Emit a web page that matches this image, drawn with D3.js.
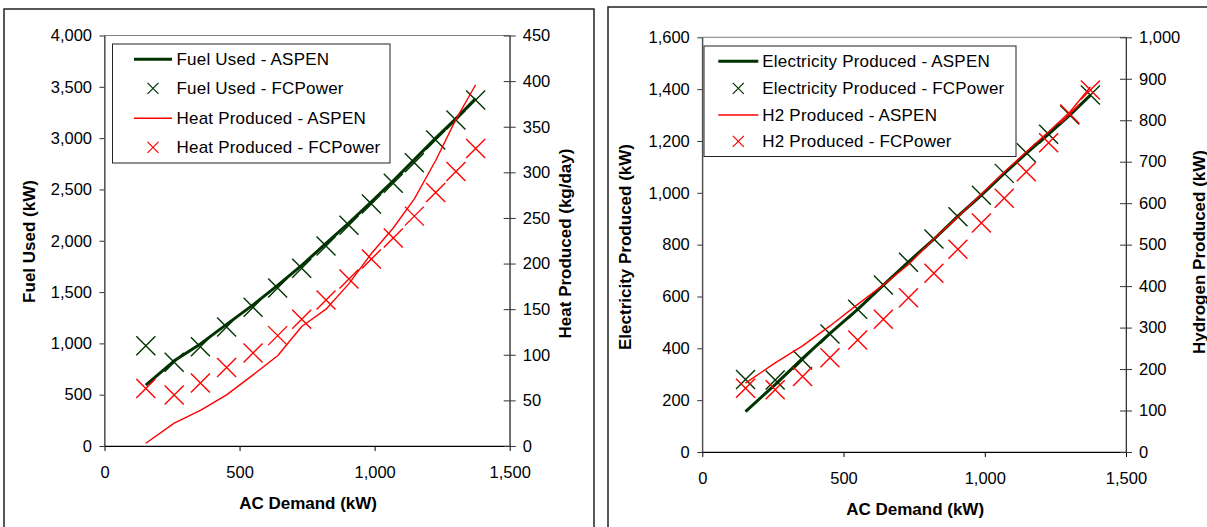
<!DOCTYPE html>
<html><head><meta charset="utf-8">
<script src="https://cdn.jsdelivr.net/npm/d3@7"></script>
<style>
body{margin:0;background:#fff;}
svg text{font-family:"Liberation Sans",Arial,sans-serif;fill:#000;}
.tick text{font-size:16.5px;}
.ttl{font-size:17px;font-weight:bold;}
.leg{font-size:17px;letter-spacing:0.2px;}
</style></head><body>
<svg id="c" width="1207" height="527"></svg>
<script>
// ---------- data ----------
const acDemand        = [153,258,355,452,550,641,730,820,905,988,1069,1147,1226,1301,1374];
const fuelUsedAspen   = [594,830,995,1185,1375,1565,1760,1975,2175,2380,2585,2790,3000,3190,3385];
const fuelUsedFCPower = [977,816,968,1160,1351,1540,1731,1949,2150,2357,2560,2761,2982,3177,3371];
const heatAspen       = [3,25,39,56,78,99,131,150,178,211,239,271,313,358,396];
const heatFCPower     = [63,56,69,86,102,121,139,160,183,205,228,252,278,301,326];
const elecAspen       = [156,260,361,458,550,644,734,821,910,991,1075,1152,1226,1300,1377];
const elecFCPower     = [280,278,355,455,551,644,732,822,908,991,1075,1155,1226,1300,1377];
const h2Aspen         = [166,215,256,304,356,403,452,514,567,622,675,724,772,820,880];
const h2FCPower       = [154,150,182,227,270,320,372,431,489,552,612,676,746,815,873];

const xTicks    = [0,500,1000,1500];
const fuelTicks = [0,500,1000,1500,2000,2500,3000,3500,4000];
const heatTicks = [0,50,100,150,200,250,300,350,400,450];
const elecTicks = [0,200,400,600,800,1000,1200,1400,1600];
const h2Ticks   = [0,100,200,300,400,500,600,700,800,900,1000];

const GREEN = "#003300", RED = "#ff0000";
const fmt = d3.format(",");
const svg = d3.select("#c");

function drawChart(cfg){
  const g = svg.append("g");
  // outer frame
  g.append("rect").attr("x",cfg.frame[0]).attr("y",cfg.frame[1])
    .attr("width",cfg.frame[2]).attr("height",cfg.frame[3])
    .attr("fill","#fff").attr("stroke","#222").attr("stroke-width",1.5);

  const x = d3.scaleLinear().domain([0,1500]).range(cfg.xr);
  const yL = d3.scaleLinear().domain(cfg.yLdom).range(cfg.yr);
  const yR = d3.scaleLinear().domain(cfg.yRdom).range(cfg.yr);

  // plot area border
  g.append("rect").attr("x",cfg.xr[0]).attr("y",cfg.yr[1])
    .attr("width",cfg.xr[1]-cfg.xr[0]).attr("height",cfg.yr[0]-cfg.yr[1])
    .attr("fill","none").attr("stroke","#808080").attr("stroke-width",1);

  // axes
  const ax = g.append("g").attr("transform",`translate(0,${cfg.yr[0]})`)
    .call(d3.axisBottom(x).tickValues(xTicks).tickFormat(fmt).tickSizeInner(5).tickSizeOuter(0).tickPadding(15.5));
  ax.select(".domain").attr("stroke","#000");
  ax.selectAll(".tick line").attr("stroke","#000");
  ax.selectAll("text").attr("font-family",null).attr("font-size",null);

  const al = g.append("g").attr("transform",`translate(${cfg.xr[0]},0)`)
    .call(d3.axisLeft(yL).tickValues(cfg.yLticks).tickFormat(fmt).tickSizeInner(5).tickSizeOuter(0).tickPadding(7.5));
  al.selectAll(".domain,.tick line").attr("stroke","#333");
  al.selectAll("text").attr("font-family",null).attr("font-size",null);

  const ar = g.append("g").attr("transform",`translate(${cfg.xr[1]},0)`)
    .call(d3.axisRight(yR).tickValues(cfg.yRticks).tickFormat(fmt).tickSizeInner(6).tickSizeOuter(0).tickPadding(7));
  ar.selectAll(".domain,.tick line").attr("stroke","#333");
  ar.selectAll(".tick line").attr("x1",-6);
  ar.selectAll("text").attr("font-family",null).attr("font-size",null);

  // titles
  g.append("text").attr("class","ttl").attr("text-anchor","middle")
    .attr("x",(cfg.xr[0]+cfg.xr[1])/2+1).attr("y",cfg.xTitleY).text("AC Demand (kW)");
  g.append("text").attr("class","ttl").attr("text-anchor","middle")
    .attr("transform",`translate(${cfg.yLTitle[0]},${cfg.yLTitle[1]}) rotate(-90)`).text(cfg.yLTitleText);
  g.append("text").attr("class","ttl").attr("text-anchor","middle")
    .attr("transform",`translate(${cfg.yRTitle[0]},${cfg.yRTitle[1]}) rotate(-90)`).text(cfg.yRTitleText);

  // series
  const plot = g.append("g");
  function xMark(sel, s, col, w){
    sel.append("path").attr("d",`M${-s},${-s}L${s},${s}M${-s},${s}L${s},${-s}`)
      .attr("stroke",col).attr("stroke-width",w).attr("fill","none");
  }
  cfg.series.forEach(s=>{
    const pts = acDemand.map((d,i)=>[d, s.values[i]]);
    const ys = s.axis==="L"?yL:yR;
    if(s.type==="line"){
      plot.append("path").datum(pts)
        .attr("d",d3.line().x(d=>x(d[0])).y(d=>ys(d[1])))
        .attr("fill","none").attr("stroke",s.color).attr("stroke-width",s.width)
        .attr("stroke-linejoin","round");
    } else {
      plot.selectAll(null).data(pts).enter().append("g")
        .attr("transform",d=>`translate(${x(d[0])},${ys(d[1])})`)
        .each(function(){ xMark(d3.select(this),9.5,s.color,1.4); });
    }
  });

  // legend
  const L = cfg.legend;
  const lg = g.append("g");
  lg.append("rect").attr("x",L.box[0]).attr("y",L.box[1]).attr("width",L.box[2]).attr("height",L.box[3])
    .attr("fill","#fff").attr("stroke","#222").attr("stroke-width",1);
  cfg.series.forEach((s,i)=>{
    const by = L.baselines[i], cy = by-6;
    if(s.type==="line"){
      lg.append("line").attr("x1",L.lineX[0]).attr("x2",L.lineX[1]).attr("y1",cy).attr("y2",cy)
        .attr("stroke",s.color).attr("stroke-width",s.width);
    } else {
      const m = lg.append("g").attr("transform",`translate(${(L.lineX[0]+L.lineX[1])/2},${cy})`);
      xMark(m,5.5,s.color,1.2);
    }
    lg.append("text").attr("class","leg").attr("x",L.textX).attr("y",by).text(s.name);
  });
}

drawChart({
  id:1,
  frame:[4,9,590,560],
  xr:[104.5,509.7], yr:[446,35.5],
  yLdom:[0,4000], yRdom:[0,450],
  yLticks:fuelTicks, yRticks:heatTicks,
  xTitleY:508.5,
  yLTitle:[35,241.5], yLTitleText:"Fuel Used (kW)",
  yRTitle:[571,243.5], yRTitleText:"Heat Produced (kg/day)",
  series:[
    {name:"Fuel Used - ASPEN", type:"line", axis:"L", values:fuelUsedAspen, color:GREEN, width:3},
    {name:"Fuel Used - FCPower", type:"mark", axis:"L", values:fuelUsedFCPower, color:GREEN},
    {name:"Heat Produced - ASPEN", type:"line", axis:"R", values:heatAspen, color:RED, width:1.4},
    {name:"Heat Produced - FCPower", type:"mark", axis:"R", values:heatFCPower, color:RED}
  ],
  legend:{box:[112.5,44,277.5,119], baselines:[65.3,94.3,124.3,153.3], lineX:[134,172], textX:176.5}
});

drawChart({
  id:2,
  frame:[608,7,640,560],
  xr:[702.3,1126], yr:[452,37.3],
  yLdom:[0,1600], yRdom:[0,1000],
  yLticks:elecTicks, yRticks:h2Ticks,
  xTitleY:515,
  yLTitle:[630.5,247], yLTitleText:"Electricity Produced (kW)",
  yRTitle:[1204.5,252], yRTitleText:"Hydrogen Produced (kW)",
  series:[
    {name:"Electricity Produced - ASPEN", type:"line", axis:"L", values:elecAspen, color:GREEN, width:3},
    {name:"Electricity Produced - FCPower", type:"mark", axis:"L", values:elecFCPower, color:GREEN},
    {name:"H2 Produced - ASPEN", type:"line", axis:"R", values:h2Aspen, color:RED, width:1.4},
    {name:"H2 Produced - FCPower", type:"mark", axis:"R", values:h2FCPower, color:RED}
  ],
  legend:{box:[704,46,312,110.5], baselines:[67.3,94.3,121,147.3], lineX:[718.3,758.3], textX:762.3}
});
</script>
</body></html>
